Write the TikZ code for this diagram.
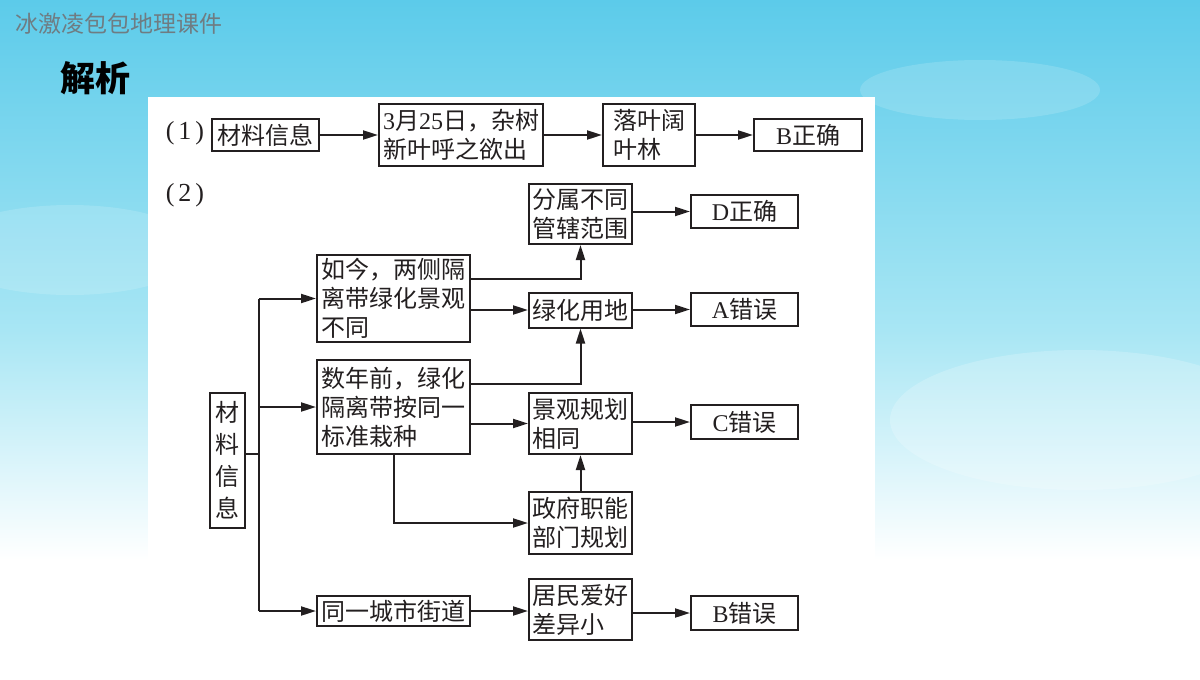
\documentclass[tikz,border=0pt]{standalone}
\usepackage{fontspec}
\usetikzlibrary{arrows.meta}
\newfontfamily\cjk{Noto Sans CJK SC}
\newfontfamily\latn{Liberation Serif}
\definecolor{skytop}{HTML}{5CCBEA}
\definecolor{skymid}{HTML}{A8E6F4}
\definecolor{ink}{HTML}{231F20}
\definecolor{headgray}{HTML}{6F7C82}

\begin{document}
\begin{tikzpicture}[x=1pt, y=-1pt,
    box/.style={draw=ink, line width=2pt, fill=white, inner sep=3pt, align=left,
      text=ink, font=\cjk\fontsize{24}{29}\selectfont},
    arr/.style={draw=ink, line width=2pt, -{Triangle[length=15pt,width=9pt]}},
    wire/.style={draw=ink, line width=2pt}]

    % Background sky and the white panel
    \useasboundingbox (0,0) rectangle (1200,680);
    \fill[top color=skytop, bottom color=skymid] (0,0) rectangle (1200,330);
    \fill[top color=skymid, bottom color=white] (0,330) rectangle (1200,560);
    \fill[white] (0,560) rectangle (1200,680);
    \fill[white, opacity=0.15] (70,250) ellipse (130 and 45);
    \fill[white, opacity=0.2] (1080,420) ellipse (190 and 70);
    \fill[white, opacity=0.15] (980,90) ellipse (120 and 30);
    \fill[white] (148,97) rectangle (875,680);

    % Header
    \node[anchor=west, text=headgray, font=\cjk\fontsize{23}{23}\selectfont] (brand) at (12,24) {冰激凌包包地理课件};
    \node[anchor=west, text=black, font=\cjk\bfseries\fontsize{35}{35}\selectfont] (title) at (57,78) {解析};

    % Part (1)
    \node[text=ink, font=\latn\fontsize{26}{26}\selectfont] (lab1) at (185,133) {(\hspace{4pt}1\hspace{4pt})};
    \node[box, minimum width=107, minimum height=32] (infoA) at (265.5,135) {材料信息};
    \node[box, minimum width=164, minimum height=62] (dateA) at (461,135) {{\latn 3}月{\latn 25}日，杂树\\新叶呼之欲出};
    \node[box, minimum width=92, minimum height=62] (forestA) at (649,135) {落叶阔\\叶林};
    \node[box, align=center, minimum width=108, minimum height=32] (resA) at (808,135) {{\latn B}正确};

    \draw[arr] (infoA) -- (dateA);
    \draw[arr] (dateA) -- (forestA);
    \draw[arr] (forestA) -- (resA);

    % Part (2)
    \node[text=ink, font=\latn\fontsize{26}{26}\selectfont] (lab2) at (185,195) {(\hspace{4pt}2\hspace{4pt})};
    \node[box, align=center, font=\cjk\fontsize{24}{32}\selectfont, minimum width=35, minimum height=135] (infoB) at (227.5,460.5) {材\\料\\信\\息};

    \node[box, minimum width=153, minimum height=87] (nowB) at (393.5,298.5) {如今，两侧隔\\离带绿化景观\\不同};
    \node[box, minimum width=153, minimum height=94] (pastB) at (393.5,407) {数年前，绿化\\隔离带按同一\\标准栽种};
    \node[box, minimum width=153, minimum height=30] (streetB) at (393.5,611) {同一城市街道};

    \node[box, minimum width=103, minimum height=60] (zoneB) at (580.5,214) {分属不同\\管辖范围};
    \node[box, minimum width=103, minimum height=35] (landB) at (580.5,310) {绿化用地};
    \node[box, minimum width=103, minimum height=61] (planB) at (580.5,423.5) {景观规划\\相同};
    \node[box, minimum width=103, minimum height=62] (govB) at (580.5,523) {政府职能\\部门规划};
    \node[box, minimum width=103, minimum height=61] (likeB) at (580.5,609.5) {居民爱好\\差异小};

    \node[box, align=center, minimum width=107, minimum height=33] (resD) at (744.5,211.5) {{\latn D}正确};
    \node[box, align=center, minimum width=107, minimum height=33] (resA2) at (744.5,309.5) {{\latn A}错误};
    \node[box, align=center, minimum width=107, minimum height=34] (resC) at (744.5,422) {{\latn C}错误};
    \node[box, align=center, minimum width=107, minimum height=34] (resB2) at (744.5,613) {{\latn B}错误};

    % Trunk from the material box
    \coordinate (trunk) at (259,454);
    \draw[wire] (infoB.east |- trunk) -- (trunk);
    \draw[wire] (nowB.west -| trunk) -- (streetB.west -| trunk);
    \draw[arr] (nowB.west -| trunk) -- (nowB.west);
    \draw[arr] (pastB.west -| trunk) -- (pastB.west);
    \draw[arr] (streetB.west -| trunk) -- (streetB.west);

    % Arrows between the columns
    \draw[arr] ([yshift=20pt]nowB.east) -| (zoneB.south);
    \draw[arr] (nowB.east |- landB.west) -- (landB.west);
    \draw[arr] ([yshift=23pt]pastB.east) -| (landB.south);
    \draw[arr] (pastB.east |- planB.west) -- (planB.west);
    \draw[arr] (pastB.south) |- (govB.west);
    \draw[arr] (govB.north) -- (planB.south);
    \draw[arr] (streetB.east) -- (streetB.east -| likeB.west);

    \draw[arr] (zoneB.east |- resD.west) -- (resD.west);
    \draw[arr] (landB.east |- resA2.west) -- (resA2.west);
    \draw[arr] (planB.east |- resC.west) -- (resC.west);
    \draw[arr] (likeB.east |- resB2.west) -- (resB2.west);

\end{tikzpicture}
\end{document}
